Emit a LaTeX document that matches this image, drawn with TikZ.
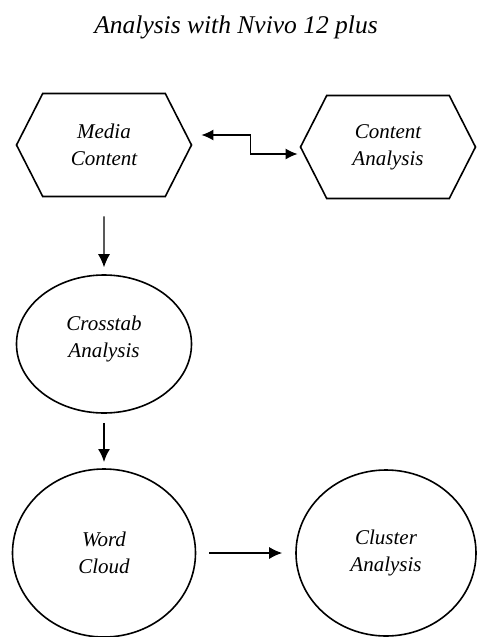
\documentclass[tikz,border=0pt]{standalone}
\usepackage{fontspec}
\setmainfont{Liberation Serif}
\usetikzlibrary{shapes.geometric,shapes.symbols,arrows.meta}

\begin{document}
\begin{tikzpicture}[x=1pt,y=-1pt,
    hexbox/.style={signal,signal to=east and west,signal pointer angle=126,draw=black,line width=1.6pt,minimum width=175pt,minimum height=103pt,inner sep=0pt,align=center,font=\itshape\fontsize{21}{27}\selectfont},
    ovalbox/.style={ellipse,draw=black,line width=1.6pt,inner sep=0pt,align=center,font=\itshape\fontsize{21}{27}\selectfont},
    arr/.style={-{Latex[length=13pt,width=12pt]},line width=1.1pt}]
    \useasboundingbox (0,0) rectangle (477,637);
    \node[anchor=base,font=\itshape\fontsize{25.5}{30}\selectfont] (title) at (236,33) {Analysis with Nvivo 12 plus};
    % top row
    \node[hexbox] (media) at (104,145) {Media\\Content};
    \node[hexbox] (content) at (388,147) {Content\\Analysis};
    % left column and last step
    \node[ovalbox,minimum width=175pt,minimum height=138pt] (crosstab) at (104,344) {Crosstab\\Analysis\\[-13pt]};
    \node[ovalbox,minimum width=183pt,minimum height=168pt] (word) at (104,553) {Word\\Cloud};
    \node[ovalbox,minimum width=180pt,minimum height=166pt] (cluster) at (386,553) {Cluster\\Analysis};
    \draw[arr,{Latex[length=12pt,width=11pt]}-{Latex[length=12pt,width=11pt]},line width=1.5pt] ([xshift=9pt,yshift=10pt]media.east) -- ++(49,0) |- ([xshift=-2pt,yshift=-7pt]content.west);
    \draw[arr,shorten <=19pt,shorten >=7pt] (media) -- (crosstab);
    \draw[arr,line width=2.2pt,shorten <=9pt,shorten >=6pt] (crosstab) -- (word);
    \draw[arr,line width=1.4pt,shorten <=13pt,shorten >=13pt] (word) -- (cluster);
\end{tikzpicture}
\end{document}
